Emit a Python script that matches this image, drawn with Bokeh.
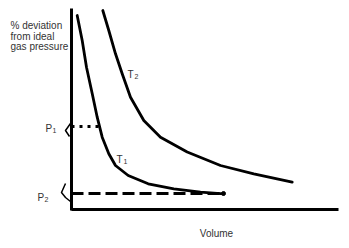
from bokeh.plotting import figure
from bokeh.models import Range1d
from bokeh.core.properties import value
from bokeh.embed import file_html
from bokeh.resources import INLINE

# Data (volume in arbitrary units, % deviation in arbitrary units)
t1_volume = [0.228, 0.428, 0.600, 0.828, 1.028, 1.228, 1.492, 1.760, 2.268, 3.068, 4.092, 5.160, 6.092]
t1_dev = [9.70, 8.45, 7.115, 5.80, 4.615, 3.615, 2.785, 2.20, 1.70, 1.285, 1.035, 0.865, 0.785]
t2_volume = [1.252, 1.492, 1.760, 2.028, 2.360, 2.892, 3.560, 4.628, 5.960, 7.292, 8.828]
t2_dev = [9.95, 8.95, 7.785, 6.785, 5.615, 4.45, 3.615, 2.875, 2.20, 1.785, 1.365]
p1_level = 4.15
p1_end = 1.08
p2_level = 0.80
p2_end = 6.08
axis_x_end = 10.68
axis_y_end = 10.05

# brace marks beside P1/P2
brace1_x = [-0.04, -0.24, -0.08]
brace1_y = [4.30, 3.95, 3.65]
brace2_x = [-0.24, -0.40, -0.24, -0.04]
brace2_y = [1.30, 0.85, 0.60, 0.40]

FONT = value("Liberation Sans")
INK = "#333333"

p = figure(width=349, height=248, output_backend="svg", toolbar_location=None,
           x_range=Range1d(-71 / 25, (349 - 71) / 25),
           y_range=Range1d((209 - 248) / 20, 209 / 20),
           min_border=0)
p.axis.visible = False
p.grid.visible = False
p.outline_line_color = None
p.background_fill_color = "white"
p.border_fill_color = "white"

# axes
p.line([0, 0], [-0.05, axis_y_end], line_width=3, color="black")
p.line([0, axis_x_end], [0, 0], line_width=3, color="black")

# curves
p.line(t1_volume, t1_dev, line_width=2.8, color="black", line_cap="round", line_join="round")
p.line(t2_volume, t2_dev, line_width=2.8, color="black", line_cap="round", line_join="round")

# reference lines
p.line([0, p1_end], [p1_level, p1_level], line_width=3, color="black", line_dash="3 5")
p.line([0, p2_end], [p2_level, p2_level], line_width=3, color="black", line_dash="12 5")
p.scatter([p2_end], [p2_level], size=4, color="black")

# brace marks
p.line(brace1_x, brace1_y, line_width=1.5, color="black", line_join="round")
p.line(brace2_x, brace2_y, line_width=1.5, color="black", line_join="round")

def txt(x, y, s, size="10px", align="left"):
    p.text(x=[x], y=[y], text=[s], text_font=FONT, text_font_size=size,
           text_color=INK, text_align=align, text_baseline="alphabetic")

# y label
txt(-61 / 25, (209 - 25) / 20, "% deviation")
txt(-61 / 25, (209 - 36) / 20, "from ideal")
txt(-61 / 25, (209 - 46) / 20, "gas pressure")
# x label
txt((216 - 71) / 25, (209 - 233) / 20, "Volume", align="center")
# curve labels
txt((127 - 71) / 25, (209 - 74) / 20, "T")
txt((134 - 71) / 25, (209 - 76) / 20, "2", size="7px")
txt((116 - 71) / 25, (209 - 159) / 20, "T")
txt((123 - 71) / 25, (209 - 161) / 20, "1", size="7px")
# P labels
txt((45 - 71) / 25, (209 - 128) / 20, "P")
txt((52 - 71) / 25, (209 - 130) / 20, "1", size="7px")
txt((37 - 71) / 25, (209 - 197) / 20, "P")
txt((44 - 71) / 25, (209 - 199) / 20, "2", size="7px")

open("out.html", "w").write(file_html(p, INLINE))
